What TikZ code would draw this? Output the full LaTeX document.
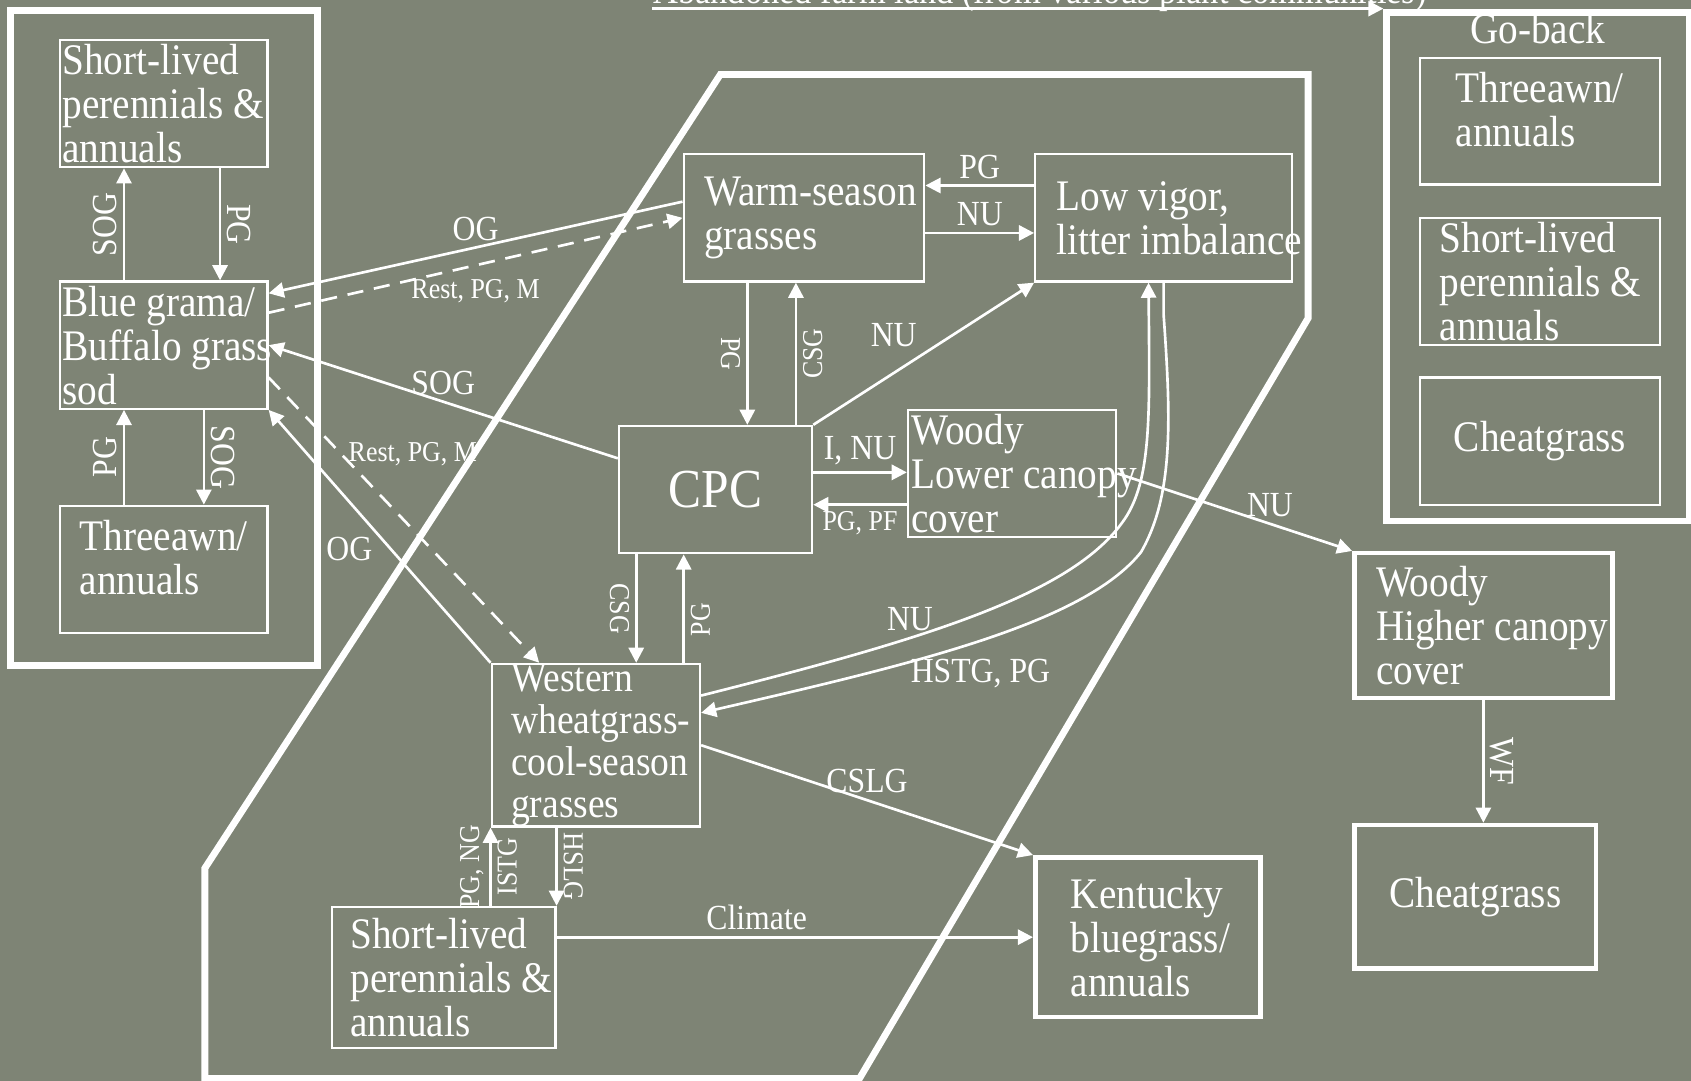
\documentclass[tikz,border=0pt]{standalone}
\usepackage{fontspec}
\setmainfont{Liberation Serif}[FakeStretch=0.9]
\usetikzlibrary{arrows.meta, calc}
\definecolor{sage}{RGB}{126,132,117}

\begin{document}
\begin{tikzpicture}[x=0.01cm, y=-0.01cm,
    box/.style={draw=white, line width=0.6pt, text=white, align=left, inner ysep=0pt,
      font=\fontsize{11.5}{11.6}\selectfont,
      execute at begin node={\spaceskip=0pt\xspaceskip=0pt\relax}},
    bigbox/.style={box, line width=1.2pt},
    frame/.style={draw=white, line width=1.8pt, inner sep=0pt},
    arr/.style={white, line width=0.7pt, -{Triangle[length=1.4mm, width=1.4mm]}},
    dasharr/.style={arr, dash pattern=on 1.5mm off 1mm},
    lbl/.style={text=white, inner sep=1.5pt, font=\fontsize{9.3}{10}\selectfont},
    slbl/.style={lbl, font=\fontsize{7.6}{8}\selectfont}]
  \useasboundingbox (0,0) rectangle (1568,1002);
  \fill[sage] (0,0) rectangle (1568,1002);

  % site boundary
  \draw[white, line width=1.8pt] (190,1000) -- (190,805) -- (668,69) -- (1213,69)
    -- (1213,295) -- (797,1000) -- cycle;

  % left group
  \node[frame, minimum width=2.84cm, minimum height=6.07cm] (lf) at (152,313.5) {};
  \node[box, minimum width=1.92cm, minimum height=1.18cm, text width=1.88cm, inner xsep=0.02cm]
    (slpTL) at (152,96) {\mbox{Short-lived}\\\mbox{perennials \&}\\annuals};
  \node[box, minimum width=1.92cm, minimum height=1.18cm, text width=1.88cm, inner xsep=0.02cm]
    (bgb) at (152,320) {\mbox{Blue grama/}\\\mbox{Buffalo grass}\\sod};
  \node[box, minimum width=1.92cm, minimum height=1.18cm, text width=1.56cm, inner xsep=0.18cm]
    (taL) at (152,528) {Threeawn/\\annuals\\[-5.5pt]\mbox{}};

  % go-back group
  \node[frame, minimum width=2.8cm, minimum height=4.71cm] (gb) at (1426,247.5) {};
  \node[text=white, anchor=north, inner sep=0pt, font=\fontsize{11.5}{11.6}\selectfont]
    (gbt) at ([yshift=-0.3mm]gb.north) {Go-back};
  \node[box, minimum width=2.22cm, minimum height=1.17cm, text width=1.56cm, inner xsep=0.33cm]
    (ta2) at (1428,112.5) {Threeawn/\\annuals\\[-5.5pt]\mbox{}};
  \node[box, minimum width=2.22cm, minimum height=1.18cm, text width=1.86cm, inner xsep=0.18cm]
    (slp2) at (1428,261) {\mbox{Short-lived}\\\mbox{perennials \&}\\annuals};
  \node[box, align=center, minimum width=2.22cm, minimum height=1.18cm]
    (cg2) at (1428,409) {Cheatgrass};

  % states
  \node[box, minimum width=2.23cm, minimum height=1.18cm, text width=1.85cm, inner xsep=0.19cm]
    (wsg) at (745.5,202) {\mbox{Warm-season}\\grasses};
  \node[box, minimum width=2.38cm, minimum height=1.18cm, text width=1.98cm, inner xsep=0.2cm]
    (lvl) at (1079,202) {\mbox{Low vigor,}\\\mbox{litter imbalance}};
  \node[box, align=center, minimum width=1.79cm, minimum height=1.18cm,
    font=\fontsize{14.5}{15}\selectfont] (cpc) at (663.5,454) {CPC};
  \node[box, minimum width=1.93cm, minimum height=1.18cm, text width=1.87cm, inner xsep=0.03cm]
    (wlc) at (938.5,439) {Woody\\\mbox{Lower canopy}\\cover};
  \node[box, minimum width=1.93cm, minimum height=1.48cm, text width=1.57cm, inner xsep=0.18cm,
    font=\fontsize{11}{11.1}\selectfont] (wwg) at (552.5,691)
    {Western\\\mbox{wheatgrass-}\\\mbox{cool-season}\\grasses};
  \node[box, minimum width=2.07cm, minimum height=1.31cm, text width=1.73cm, inner xsep=0.17cm]
    (slpB) at (411.5,906.5) {\mbox{Short-lived}\\\mbox{perennials \&}\\annuals};
  \node[bigbox, minimum width=2.09cm, minimum height=1.48cm, text width=1.43cm, inner xsep=0.33cm]
    (kbg) at (1064.5,869) {Kentucky\\\mbox{bluegrass/}\\annuals};
  \node[bigbox, minimum width=2.39cm, minimum height=1.34cm, text width=1.99cm, inner xsep=0.2cm]
    (whc) at (1375.5,580) {Woody\\\mbox{Higher canopy}\\cover};
  \node[bigbox, align=center, minimum width=2.24cm, minimum height=1.33cm]
    (cg3) at (1368,831.5) {Cheatgrass};

  % abandoned farm land
  \coordinate (abf) at (605,8);
  \node[anchor=base west, text=white, inner sep=0pt, font=\fontsize{10.1}{11}\selectfont]
    (abt) at (605,3) {Abandoned farm land (from various plant communities)};
  \draw[arr] (abf) -- (abf -| gb.west);

  % left column transitions
  \draw[arr] ([xshift=-3.7mm]bgb.north) -- ([xshift=-3.7mm]slpTL.south)
    node[lbl, midway, rotate=90, anchor=south] {SOG};
  \draw[arr] ([xshift=5.2mm]slpTL.south) -- ([xshift=5.2mm]bgb.north)
    node[lbl, midway, rotate=-90, anchor=south] {PG};
  \draw[arr] ([xshift=-3.7mm]taL.north) -- ([xshift=-3.7mm]bgb.south)
    node[lbl, midway, rotate=90, anchor=south] {PG};
  \draw[arr] ([xshift=3.7mm]bgb.south) -- ([xshift=3.7mm]taL.north)
    node[lbl, midway, rotate=-90, anchor=south] {SOG};

  % to and from blue grama
  \draw[arr] ([yshift=1.5mm]wsg.west) -- ([yshift=4.8mm]bgb.east)
    node[lbl, midway, above] {OG};
  \draw[dasharr] ([yshift=3mm]bgb.east) -- (wsg.west)
    node[slbl, midway, below=2pt] {Rest, PG, M};
  \draw[arr] ([yshift=2.9mm]cpc.west) -- (bgb.east)
    node[lbl, midway, above] {SOG};
  \draw[arr] (wwg.north west) -- (bgb.south east)
    node[lbl, pos=0.45, left=3pt] {OG};
  \draw[dasharr] ([yshift=-3mm]bgb.east) -- ([xshift=-5.25mm]wwg.north)
    node[slbl, pos=0.27, anchor=west] {Rest, PG, M};

  % centre
  \draw[arr] ([xshift=-5.25mm]wsg.south) -- ([xshift=-5.25mm]wsg.south |- cpc.north)
    node[slbl, midway, rotate=-90, anchor=north] {PG};
  \draw[arr] ([xshift=7.45mm]cpc.north) -- ([xshift=7.45mm]cpc.north |- wsg.south)
    node[slbl, midway, rotate=90, anchor=north] {CSG};
  \draw[arr] (cpc.north east) -- (lvl.south west)
    node[lbl, midway, above left] {NU};
  \draw[arr] ([yshift=3mm]lvl.west) -- ([yshift=3mm]lvl.west -| wsg.east)
    node[lbl, midway, above] {PG};
  \draw[arr] ([yshift=-1.4mm]wsg.east) -- ([yshift=-1.4mm]wsg.east -| lvl.west)
    node[lbl, midway, above] {NU};
  \draw[arr] ([yshift=1.6mm]cpc.east) -- ([yshift=1.6mm]cpc.east -| wlc.west)
    node[lbl, midway, above] {I, NU};
  \draw[arr] ([yshift=-1.4mm]cpc.east -| wlc.west) -- ([yshift=-1.4mm]cpc.east)
    node[slbl, midway, below] {PG, PF};
  \draw[arr] (wlc.east) -- (whc.north west)
    node[lbl, pos=0.65, above] {NU};
  \draw[arr] ([xshift=-7.35mm]cpc.south) -- ([xshift=-7.35mm]cpc.south |- wwg.north)
    node[slbl, midway, rotate=-90, anchor=north] {CSG};
  \draw[arr] ([xshift=-2.95mm]cpc.south |- wwg.north) -- ([xshift=-2.95mm]cpc.south)
    node[slbl, pos=0.4, rotate=90, anchor=north] {PG};

  % long curves
  \draw[arr] ([yshift=4.6mm]wwg.east) .. controls (860,592) and (1000,550) .. (1045,478)
    node[lbl, pos=0.35, above] {NU}
    .. controls (1068,440) and (1066,380) .. ([xshift=-1.4mm]lvl.south);
  \draw[arr] (lvl.south) -- ++(0,30) .. controls (1086,390) and (1088,460) .. (1058,512)
    .. controls (1005,578) and (850,615) .. ([yshift=3mm]wwg.east)
    node[lbl, pos=0.5, below=3pt] {HSTG, PG};

  % bottom
  \draw[arr] (wwg.east) -- (kbg.north west)
    node[lbl, midway, above] {CSLG};
  \draw[arr] (wwg.south west |- slpB.north) -- (wwg.south west)
    node[slbl, midway, rotate=90, anchor=south] {PG, NG}
    node[slbl, midway, rotate=90, anchor=north] {ISTG};
  \draw[arr] (slpB.north east |- wwg.south) -- (slpB.north east)
    node[slbl, midway, rotate=-90, anchor=south] {HSLG};
  \draw[arr] (kbg.west -| slpB.east) -- (kbg.west)
    node[lbl, pos=0.42, above] {Climate};
  \draw[arr] (whc.south) -- (whc.south |- cg3.north)
    node[lbl, midway, rotate=-90, anchor=south] {WF};
\end{tikzpicture}
\end{document}
